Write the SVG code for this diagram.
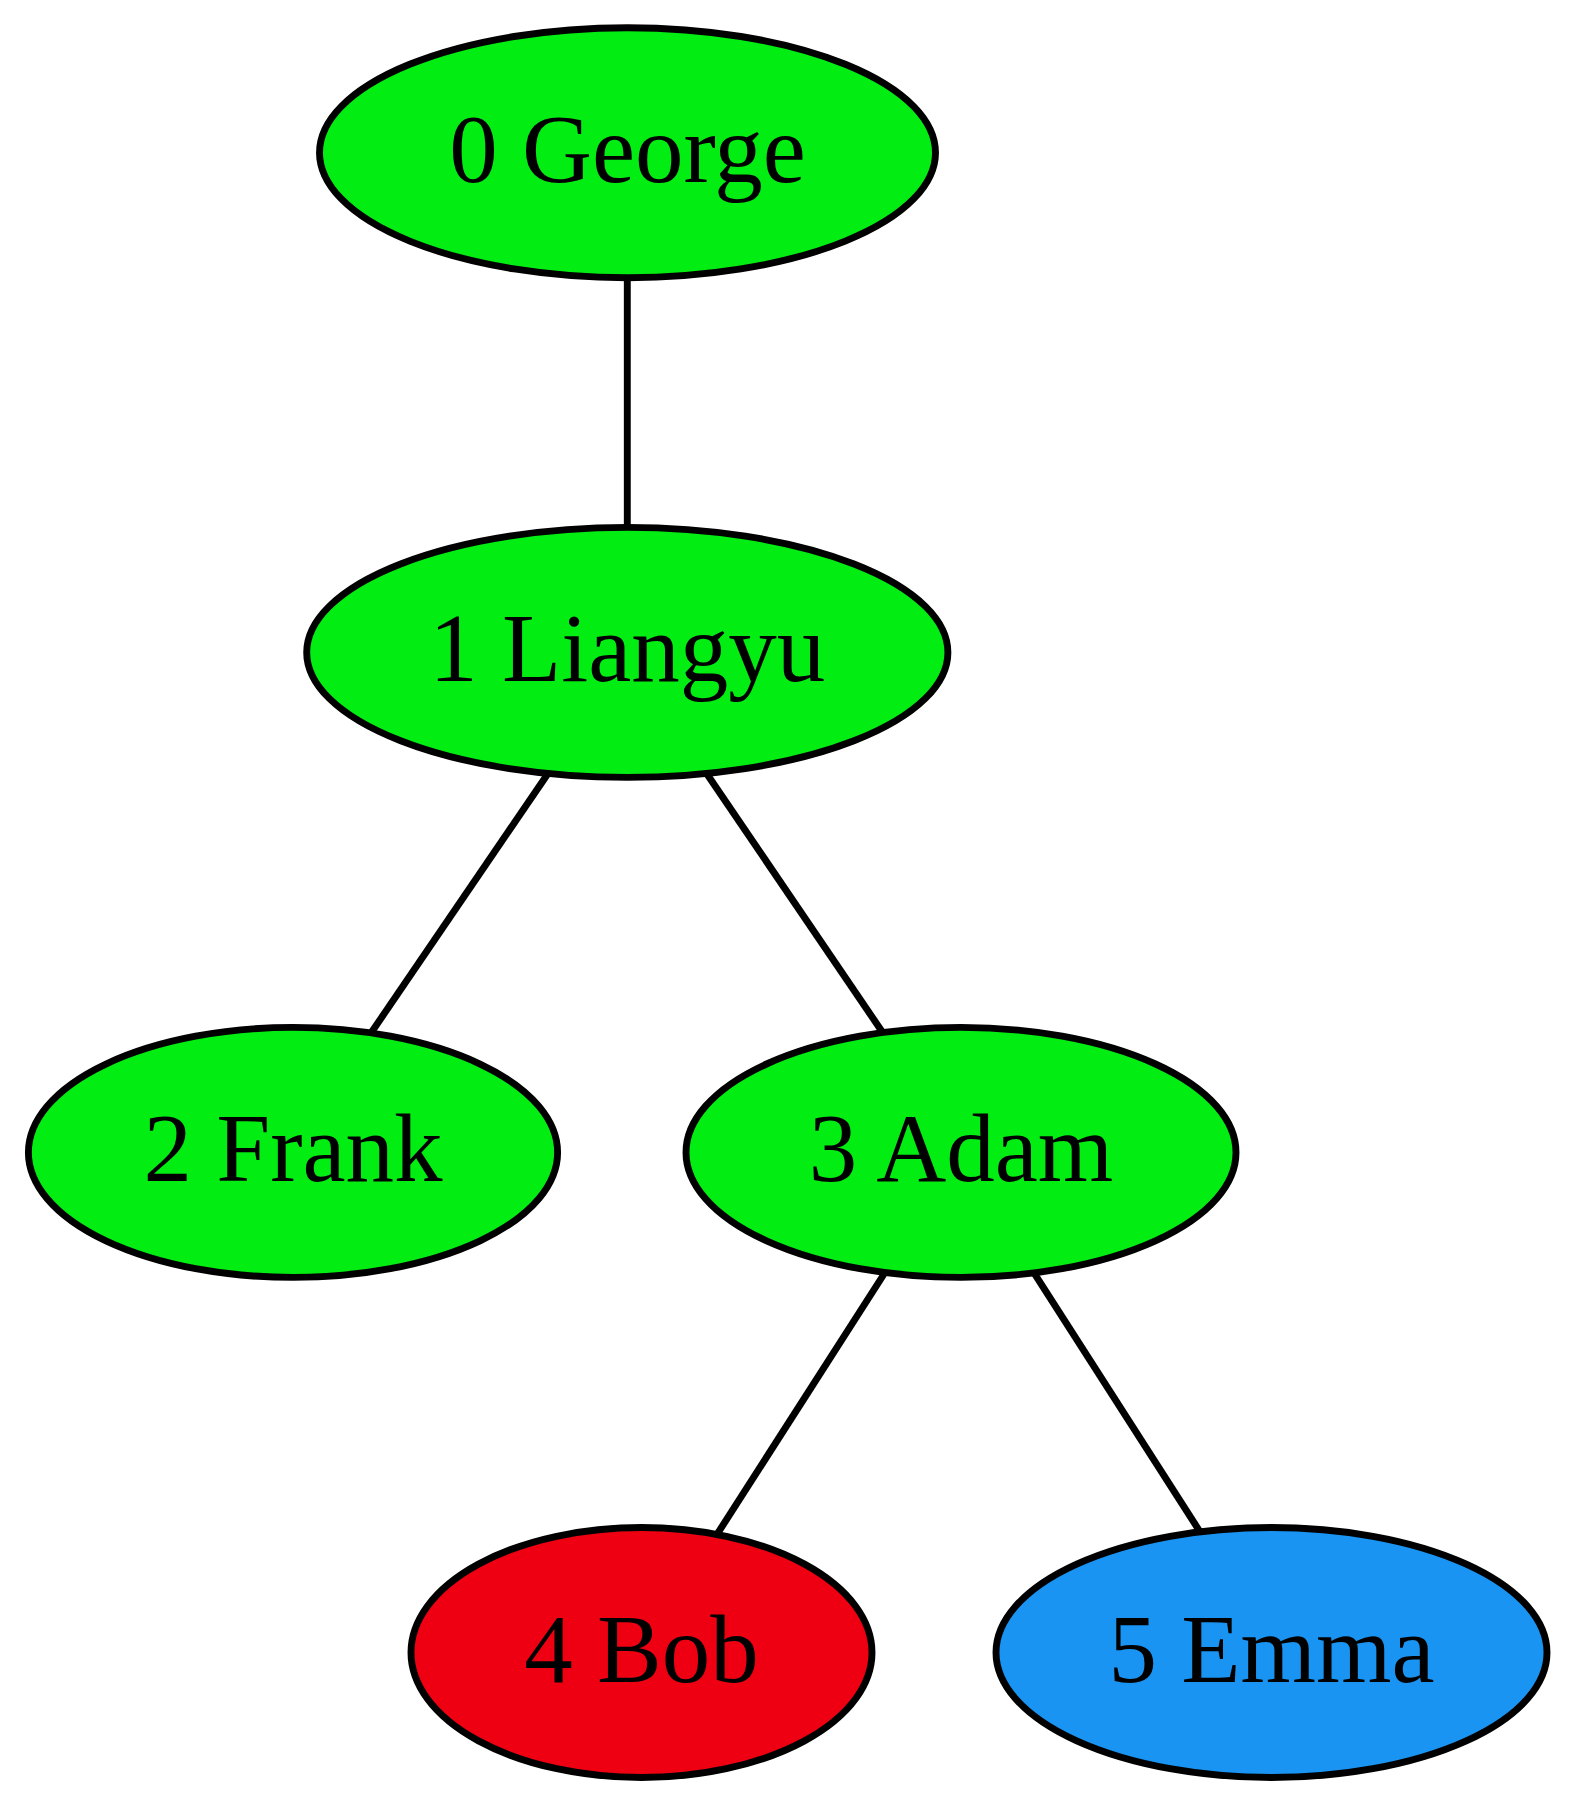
<svg xmlns="http://www.w3.org/2000/svg" width="1581" height="1806" viewBox="0 0 1581 1806">
<style>
.n ellipse{stroke:#000;stroke-width:6.9}
.n text{font-family:"Liberation Serif","Times New Roman",serif;font-size:97px;text-anchor:middle;fill:#000}
.e line{stroke:#000;stroke-width:6.9;fill:none}
.g{fill:#02ee12}
.r{fill:#ee0012}
.b{fill:#1994f2}
</style>
<rect x="0" y="0" width="1581" height="1806" fill="#fff"/>
<g id="edges" class="e">
<line x1="627.3" y1="277.6" x2="627.3" y2="527.4"/>
<line x1="548" y1="773.5" x2="371" y2="1033"/>
<line x1="706.6" y1="773.5" x2="883" y2="1033"/>
<line x1="885" y1="1272.5" x2="717" y2="1534.4"/>
<line x1="1034" y1="1272.9" x2="1200" y2="1531.8"/>
</g>
<g id="node0" class="n">
<ellipse class="g" cx="627.5" cy="152.7" rx="308" ry="125"/>
<text x="627.5" y="181.7">0 George</text>
</g>
<g id="node1" class="n">
<ellipse class="g" cx="627.3" cy="652.4" rx="320.6" ry="125"/>
<text x="627.3" y="681.4">1 Liangyu</text>
</g>
<g id="node2" class="n">
<ellipse class="g" cx="293" cy="1152.4" rx="264.6" ry="125"/>
<text x="293" y="1181.4">2 Frank</text>
</g>
<g id="node3" class="n">
<ellipse class="g" cx="961" cy="1152.4" rx="275" ry="125"/>
<text x="961" y="1181.4">3 Adam</text>
</g>
<g id="node4" class="n">
<ellipse class="r" cx="641.5" cy="1652.5" rx="230.5" ry="125"/>
<text x="641.5" y="1681.5">4 Bob</text>
</g>
<g id="node5" class="n">
<ellipse class="b" cx="1271.5" cy="1652.5" rx="275.5" ry="125"/>
<text x="1271.5" y="1681.5">5 Emma</text>
</g>
</svg>
